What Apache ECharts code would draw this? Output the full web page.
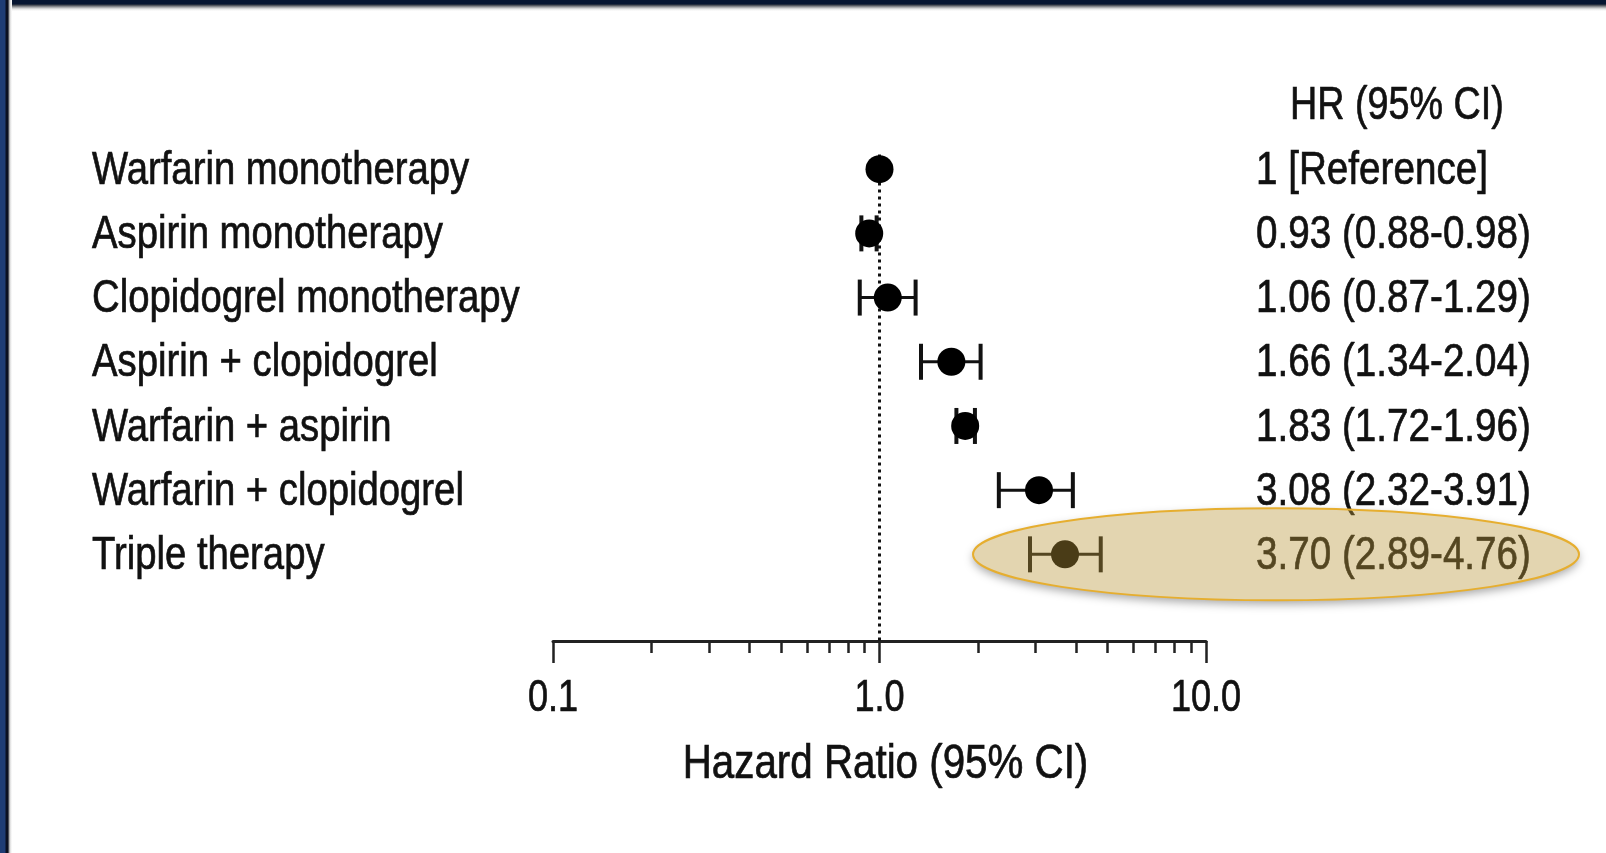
<!DOCTYPE html>
<html>
<head>
<meta charset="utf-8">
<script src="https://cdn.jsdelivr.net/npm/echarts@6/dist/echarts.min.js"></script>
<style>
  html, body { margin: 0; padding: 0; background: #fff; }
  #chart { position: absolute; left: 0; top: 0; width: 1606px; height: 853px; }
  #topbar { position: absolute; left: 0; top: 0; width: 1606px; height: 11px;
    background: linear-gradient(to bottom, #061531 0px, #061531 4px, #3a3f48 5px, #9a9ca0 7px, #e6e6e6 9px, #fff 11px); }
  #leftbar { position: absolute; left: 0; top: 0; width: 12px; height: 853px;
    background: linear-gradient(to right, #1f3d74 0px, #1f3d74 5px, #0b1020 6px, #0b1020 8px, #8c8c8c 9px, #dcdcdc 10px, #fff 12px); }
</style>
</head>
<body>
<div id="chart"></div>
<div id="topbar"></div>
<div id="leftbar"></div>
<script>
// ---- data ----
const treatments = ['Warfarin monotherapy', 'Aspirin monotherapy', 'Clopidogrel monotherapy',
  'Aspirin + clopidogrel', 'Warfarin + aspirin', 'Warfarin + clopidogrel', 'Triple therapy'];
const hr    = [1, 0.93, 1.06, 1.66, 1.83, 3.08, 3.70];
const ciLow = [null, 0.88, 0.87, 1.34, 1.72, 2.32, 2.89];
const ciHigh= [null, 0.98, 1.29, 2.04, 1.96, 3.91, 4.76];
const hrText = ['1 [Reference]', '0.93 (0.88-0.98)', '1.06 (0.87-1.29)', '1.66 (1.34-2.04)',
  '1.83 (1.72-1.96)', '3.08 (2.32-3.91)', '3.70 (2.89-4.76)'];
const headerText = 'HR (95% CI)';
const axisTitle = 'Hazard Ratio (95% CI)';
const majorTicks = [0.1, 1, 10];
const majorTickLabels = ['0.1', '1.0', '10.0'];
const minorTicks = [0.2, 0.3, 0.4, 0.5, 0.6, 0.7, 0.8, 0.9, 2, 3, 4, 5, 6, 7, 8, 9];
const refValue = 1;
const refLineRows = [0.77, 8.35];
const highlightRow = 7;

const FONT = "'Liberation Sans', Arial, 'Helvetica', sans-serif";
const TXT = '#111';

const scatterData = hr.map((v, i) => [v, i + 1]);
const ciData = [];
hr.forEach((v, i) => { if (ciLow[i] != null) ciData.push([ciLow[i], ciHigh[i], i + 1]); });

const chart = echarts.init(document.getElementById('chart'), null, { renderer: 'canvas' });

const option = {
  animation: false,
  backgroundColor: '#fff',
  grid: { left: 553, right: 400, top: 105, bottom: 212, containLabel: false },
  xAxis: [{
    type: 'log', logBase: 10, min: 0.1, max: 10, position: 'bottom',
    splitLine: { show: false },
    axisLine: { show: true, onZero: false, lineStyle: { color: '#222', width: 3 } },
    axisTick: { show: true, inside: false, length: 22, lineStyle: { color: '#222', width: 2.5 }, customValues: majorTicks },
    axisLabel: { show: false }
  }, {
    type: 'log', logBase: 10, min: 0.1, max: 10, position: 'bottom',
    splitLine: { show: false },
    axisLine: { show: false, onZero: false },
    axisTick: { show: true, length: 12, lineStyle: { color: '#222', width: 2.5 }, customValues: minorTicks },
    axisLabel: { show: false }
  }],
  yAxis: [{
    type: 'value', inverse: true, min: 0, max: 8.35, interval: 1, position: 'left',
    splitLine: { show: false }, axisLine: { show: false }, axisTick: { show: false }, axisLabel: { show: false }
  }],
  series: [{
    type: 'line', xAxisIndex: 0, yAxisIndex: 0, z: 1,
    data: refLineRows.map(r => [refValue, r]),
    symbol: 'none', silent: true,
    lineStyle: { color: '#111', width: 3, type: [3, 4] }
  }, {
    type: 'custom', xAxisIndex: 0, yAxisIndex: 0, z: 3,
    data: ciData,
    renderItem: function (params, api) {
      const lo = api.coord([api.value(0), api.value(2)]);
      const hi = api.coord([api.value(1), api.value(2)]);
      const capH = 18;
      return {
        type: 'group',
        children: [
          { type: 'line', shape: { x1: lo[0], y1: lo[1], x2: hi[0], y2: hi[1] }, style: { stroke: '#111', lineWidth: 3 } },
          { type: 'line', shape: { x1: lo[0], y1: lo[1] - capH, x2: lo[0], y2: lo[1] + capH }, style: { stroke: '#111', lineWidth: 4 } },
          { type: 'line', shape: { x1: hi[0], y1: hi[1] - capH, x2: hi[0], y2: hi[1] + capH }, style: { stroke: '#111', lineWidth: 4 } }
        ]
      };
    }
  }, {
    type: 'scatter', xAxisIndex: 0, yAxisIndex: 0, z: 4,
    data: scatterData, symbol: 'circle', symbolSize: 28,
    itemStyle: { color: '#000', opacity: 1 }
  }]
};
chart.setOption(option);

function txt(str, x, y, align, size, sx) {
  return {
    type: 'text', x: x, y: y, scaleX: sx, z: 50, silent: true,
    style: { text: str, x: 0, y: 0, align: align, textAlign: align, verticalAlign: 'middle', textVerticalAlign: 'middle',
      font: size + 'px ' + FONT, fill: TXT, stroke: TXT, lineWidth: 0.7 }
  };
}

const els = [];
const rowPx = r => chart.convertToPixel({ yAxisIndex: 0 }, r);
const xPx = v => chart.convertToPixel({ xAxisIndex: 0 }, v);
treatments.forEach((t, i) => els.push(txt(t, 92, rowPx(i + 1) + 2, 'left', 46, 0.832)));
hrText.forEach((t, i) => els.push(txt(t, 1256, rowPx(i + 1) + 2, 'left', 46, 0.84)));
els.push(txt(headerText, 1290, rowPx(0) + 1, 'left', 46, 0.82));
const axisY = rowPx(8.35);
majorTicks.forEach((v, i) => els.push(txt(majorTickLabels[i], xPx(v), axisY + 58, 'center', 44, 0.82)));
els.push(txt(axisTitle, (xPx(0.1) + xPx(10)) / 2 + 6, axisY + 124, 'center', 48, 0.84));

// highlight ellipse around the triple therapy row
const rowY = rowPx(highlightRow);
els.push({ type: 'ellipse', z: -10, silent: true, shape: { cx: 1276, cy: rowY, rx: 303, ry: 46 },
  style: { fill: '#fff', shadowBlur: 10, shadowOffsetY: 4, shadowColor: 'rgba(0,0,0,0.35)' } });
els.push({ type: 'ellipse', z: 100, silent: true, shape: { cx: 1276, cy: rowY, rx: 303, ry: 46 },
  style: { fill: 'rgba(185,150,57,0.4)', stroke: '#e6ae2f', lineWidth: 2 } });

chart.setOption({ graphic: { elements: els } });
</script>
</body>
</html>
